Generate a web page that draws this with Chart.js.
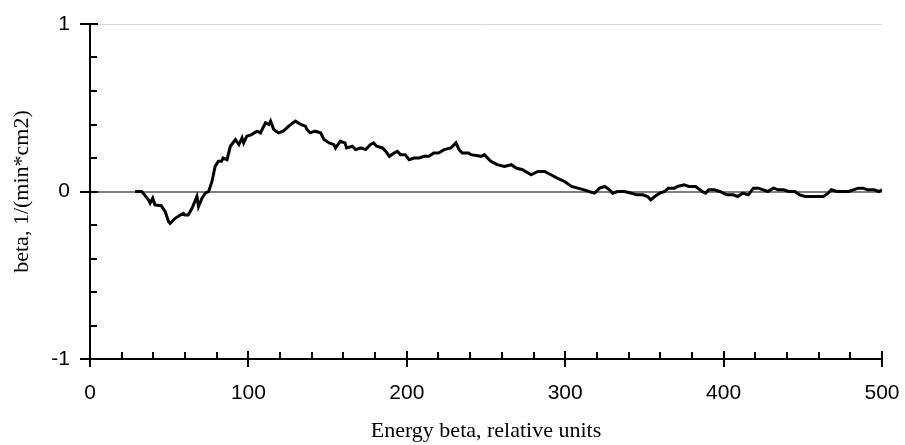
<!DOCTYPE html>
<html>
<head>
<meta charset="utf-8">
<script src="https://cdn.jsdelivr.net/npm/chart.js@4/dist/chart.umd.min.js"></script>
<style>
  html, body { margin: 0; padding: 0; background: #fff; }
  #wrap { width: 905px; height: 445px; }
</style>
</head>
<body>
<div id="wrap"><canvas id="betaChart" width="905" height="445"></canvas></div>
<script>
// data
const energy = [28.5, 32.7, 36.9, 38, 39.6, 41, 45, 47.5, 49.6, 50.6, 53.8, 57, 59, 60, 62, 64.4, 67.5, 68.5, 70.7, 72.8,
  74.9, 77, 79, 81, 83, 84, 86.5, 88.6, 91.8, 94, 96, 97, 99, 102, 105.5, 107.6, 110.8, 113, 114, 116,
  119, 122, 125.5, 129.7, 133, 136, 137, 139, 142, 145.6, 147.7, 151, 154, 155, 158, 161, 162, 165.6, 167.7, 171,
  174, 177, 179, 181, 184.6, 186.7, 189, 192, 194, 196, 199, 201.5, 204.6, 207.8, 211, 214, 217, 220, 223.6, 227.8,
  231, 233, 235, 239, 240.5, 247, 249, 253, 257, 261.6, 266, 269, 273, 278.5, 282.7, 287, 291, 295, 299.6, 304,
  308, 312, 315, 318.5, 321.7, 325, 328, 330, 333, 337.5, 341.8, 345, 349, 352, 354, 356.5, 359.7, 362.8, 365, 369,
  371, 375, 378, 382.3, 386.5, 388.6, 390.7, 394, 397.6, 402, 406, 409, 412, 415.6, 418.8, 422, 425, 428, 431.4, 434.6,
  437.8, 441, 445, 448, 451.5, 455.7, 460, 463, 466, 468, 471.5, 474.7, 479, 482, 485, 488, 491, 495, 498, 500];

const beta = [0, 0, -0.05, -0.07, -0.04, -0.08, -0.085, -0.12, -0.18, -0.19, -0.16, -0.14, -0.13, -0.14, -0.14, -0.10, -0.03, -0.09, -0.04, -0.01,
  0, 0.06, 0.15, 0.18, 0.18, 0.20, 0.19, 0.27, 0.31, 0.28, 0.32, 0.29, 0.33, 0.34, 0.36, 0.35, 0.41, 0.40, 0.42, 0.37,
  0.35, 0.36, 0.39, 0.42, 0.40, 0.39, 0.37, 0.35, 0.36, 0.35, 0.31, 0.29, 0.28, 0.26, 0.30, 0.29, 0.26, 0.27, 0.25, 0.26,
  0.25, 0.28, 0.29, 0.27, 0.26, 0.24, 0.21, 0.23, 0.24, 0.22, 0.22, 0.19, 0.20, 0.20, 0.21, 0.21, 0.23, 0.23, 0.25, 0.26,
  0.29, 0.25, 0.23, 0.23, 0.22, 0.21, 0.22, 0.18, 0.16, 0.15, 0.16, 0.14, 0.13, 0.10, 0.12, 0.12, 0.10, 0.08, 0.06, 0.03,
  0.02, 0.01, 0, -0.01, 0.02, 0.03, 0.01, -0.01, 0, 0, -0.01, -0.02, -0.02, -0.03, -0.05, -0.03, -0.01, 0, 0.02, 0.02,
  0.03, 0.04, 0.03, 0.03, 0, -0.01, 0.01, 0.01, 0, -0.02, -0.02, -0.03, -0.01, -0.02, 0.02, 0.02, 0.01, 0, 0.02, 0.01,
  0.01, 0, 0, -0.02, -0.03, -0.03, -0.03, -0.03, -0.01, 0.01, 0, 0, 0, 0.01, 0.02, 0.02, 0.01, 0.01, 0, 0.01];

const xTicks = [0, 100, 200, 300, 400, 500];
const yTicks = [-1, 0, 1];

const points = energy.map((e, i) => ({ x: e, y: beta[i] }));

// little tick marks like the original (minor ones point inside, major ones cross the axis)
const axisTicks = {
  id: 'axisTicks',
  afterDraw(chart) {
    const ctx = chart.ctx;
    const xs = chart.scales.x, ys = chart.scales.y;
    const ax = chart.chartArea.bottom;
    const ay = chart.chartArea.left;
    ctx.save();
    ctx.strokeStyle = '#000';
    ctx.lineWidth = 2;
    ctx.beginPath();
    for (let v = 0; v <= 500; v += 20) {
      const px = Math.round(xs.getPixelForValue(v));
      if (v % 100 === 0) { ctx.moveTo(px, ax - 8); ctx.lineTo(px, ax + 8); }
      else { ctx.moveTo(px, ax - 7); ctx.lineTo(px, ax); }
    }
    for (let k = -5; k <= 5; k++) {
      const py = Math.round(ys.getPixelForValue(k / 5));
      if (k % 5 === 0) { ctx.moveTo(ay - 10, py); ctx.lineTo(ay + 8, py); }
      else { ctx.moveTo(ay, py); ctx.lineTo(ay + 7, py); }
    }
    ctx.stroke();
    ctx.restore();
  }
};

var ctx = document.getElementById('betaChart').getContext('2d');

var betaChart = new Chart(ctx, {
  type: 'line',
  data: {
    datasets: [{
      data: points,
      borderColor: '#000',
      borderWidth: 3,
      pointRadius: 0,
      tension: 0,
      fill: false
    }]
  },
  options: {
    responsive: false,
    animation: false,
    layout: { padding: { top: 24, right: 23, left: 0, bottom: 0 } },
    plugins: { legend: { display: false }, tooltip: { enabled: false } },
    scales: {
      x: {
        type: 'linear',
        min: 0, max: 500,
        afterBuildTicks: s => { s.ticks = xTicks.map(v => ({ value: v })); },
        afterFit: s => { s.height = 86; s.paddingLeft = 0; s.paddingRight = 0; },
        grid: { display: false, drawTicks: false },
        border: { display: true, color: '#000', width: 2 },
        ticks: {
          padding: 22,
          color: '#000',
          font: { family: 'Liberation Sans, Arial', size: 21 }
        },
        title: {
          display: true,
          text: 'Energy beta, relative units',
          color: '#000',
          font: { family: 'Liberation Serif, Times New Roman', size: 22 },
          padding: { top: 0, bottom: 1 }
        }
      },
      y: {
        min: -1, max: 1,
        afterBuildTicks: s => { s.ticks = yTicks.map(v => ({ value: v })); },
        afterFit: s => { s.width = 90; s.paddingTop = 0; s.paddingBottom = 0; },
        grid: {
          drawTicks: false,
          color: c => c.tick.value === 0 ? '#808080' : (c.tick.value === 1 ? '#d9d9d9' : 'rgba(0,0,0,0)'),
          lineWidth: c => c.tick.value === 0 ? 2 : 1
        },
        border: { display: true, color: '#000', width: 2 },
        ticks: {
          padding: 20,
          color: '#000',
          font: { family: 'Liberation Sans, Arial', size: 21 }
        },
        title: {
          display: true,
          text: 'beta, 1/(min*cm2)',
          color: '#000',
          font: { family: 'Liberation Serif, Times New Roman', size: 22 },
          padding: { top: 9, bottom: 0 }
        }
      }
    }
  },
  plugins: [axisTicks]
});
</script>
</body>
</html>
